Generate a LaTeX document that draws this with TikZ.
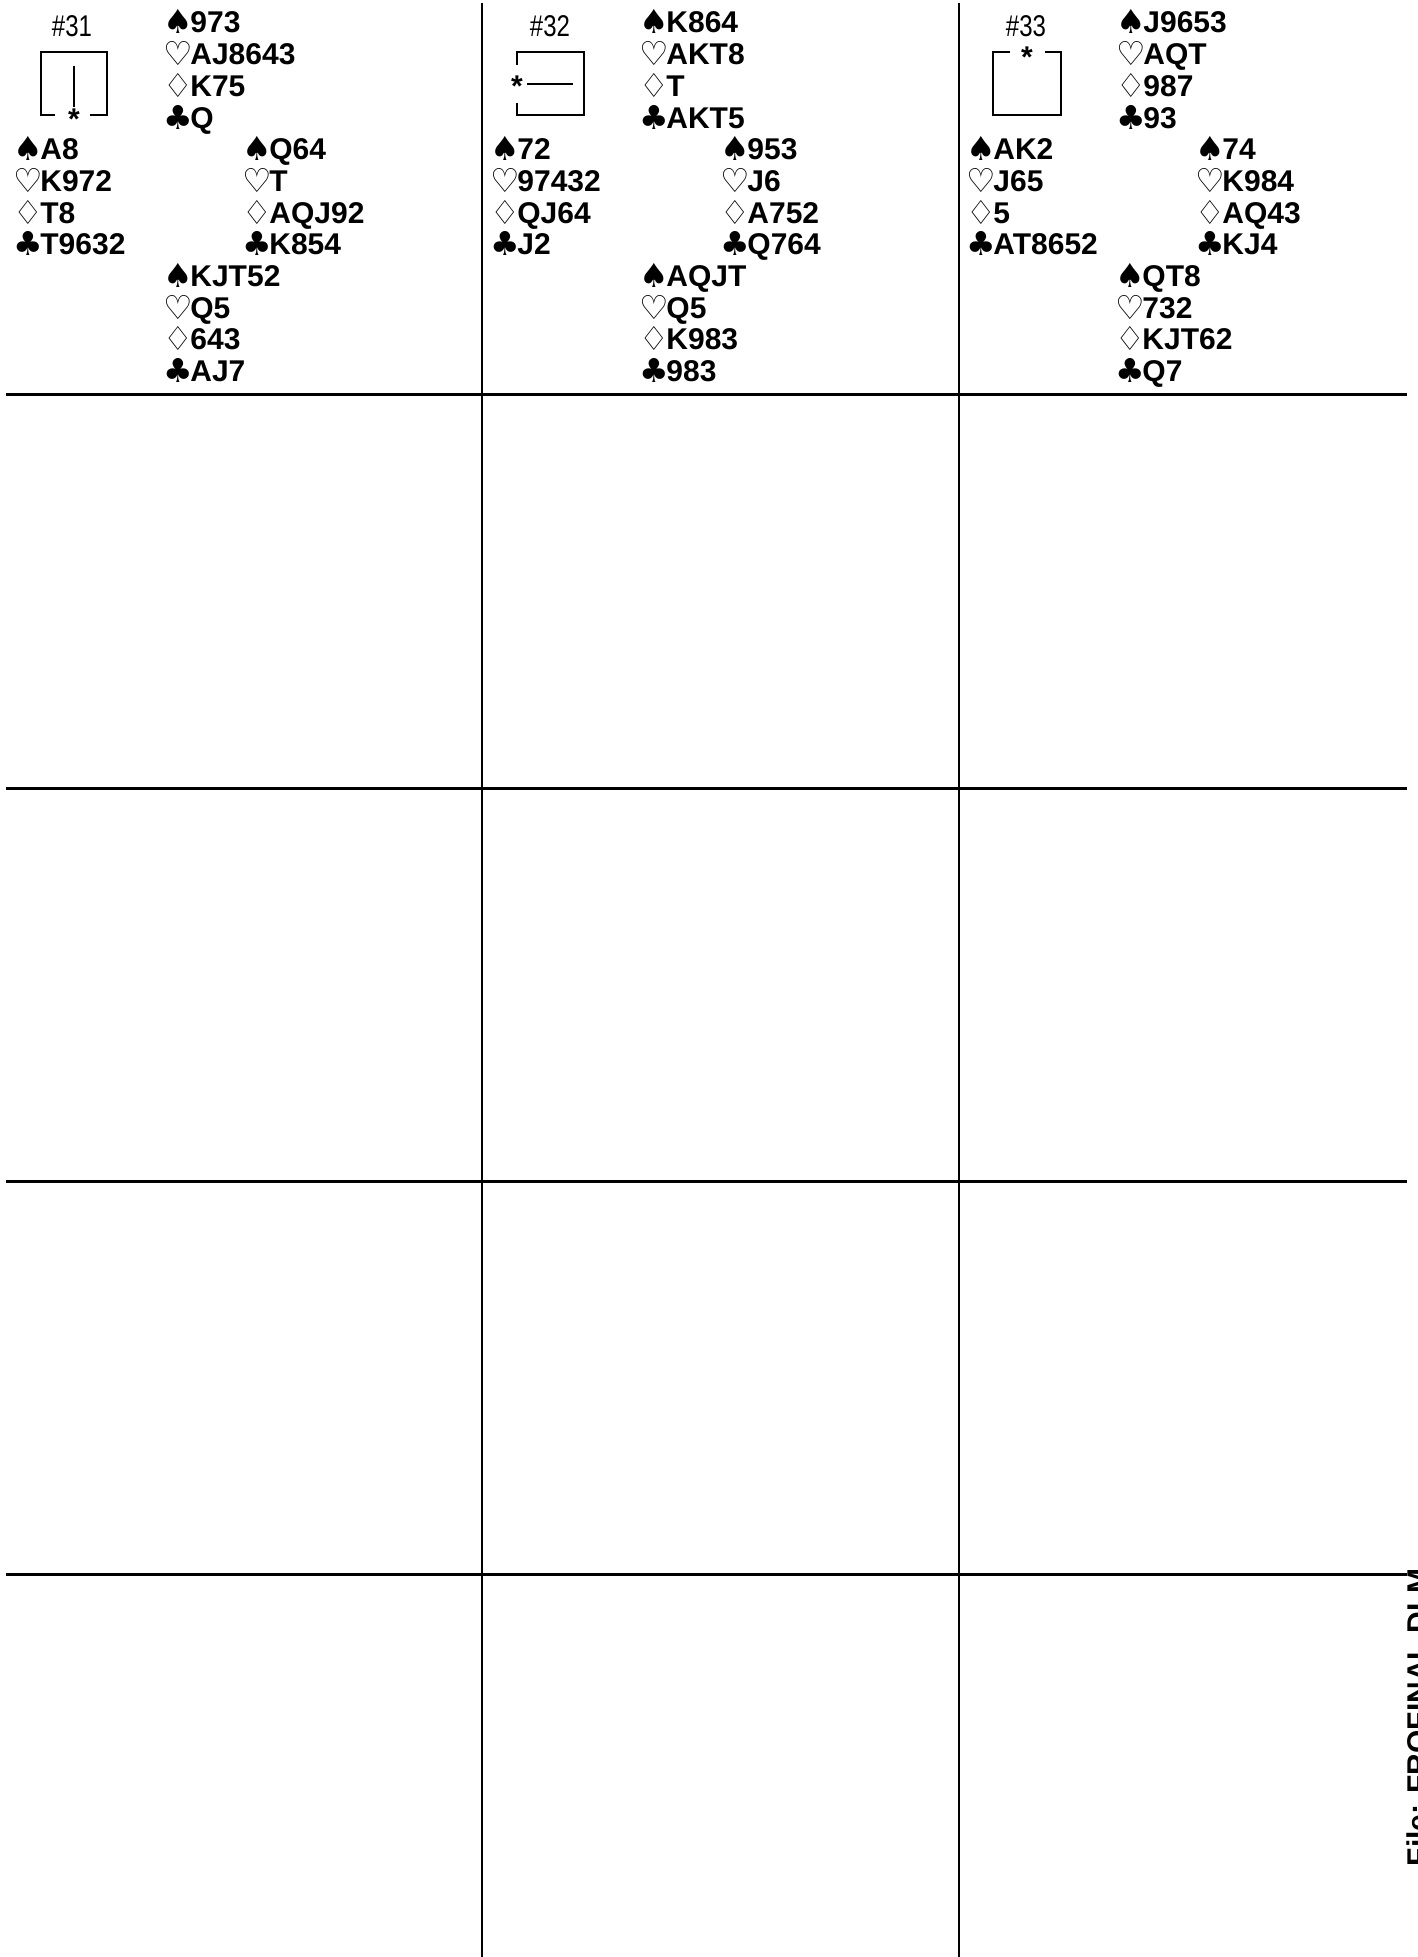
\documentclass[tikz,border=0pt]{standalone}
\usepackage{fontspec}
\setmainfont{Liberation Sans}
\newfontfamily\suitfamily{DejaVu Sans}
\newcommand\cardfnt{\fontsize{15pt}{18pt}\selectfont\bfseries}
\newcommand\suitfnt{\suitfamily\fontsize{16.5pt}{18pt}\selectfont}
\newcommand\numfnt{\fontsize{15pt}{18pt}\selectfont}
% #1 prefix, #2 card x, #3 first row, #4-#7 holdings S H D C
\newcommand\handat[7]{%
  \node[suit]  (#1sS) at ({#2-27},{34+31.7*(#3)}) {♠};
  \node[cards] (#1S)  at (#2,{33+31.7*(#3)}) {#4};
  \node[suit]  (#1sH) at ({#2-27},{34+31.7*(#3+1)}) {♡};
  \node[cards] (#1H)  at (#2,{33+31.7*(#3+1)}) {#5};
  \node[suit]  (#1sD) at ({#2-27},{34+31.7*(#3+2)}) {♢};
  \node[cards] (#1D)  at (#2,{33+31.7*(#3+2)}) {#6};
  \node[suit]  (#1sC) at ({#2-27},{34+31.7*(#3+3)}) {♣};
  \node[cards] (#1C)  at (#2,{33+31.7*(#3+3)}) {#7};
}
\begin{document}
\begin{tikzpicture}[x=0.5pt,y=-0.5pt,
  suit/.style={font=\suitfnt, inner sep=0pt, anchor=base west},
  cards/.style={font=\cardfnt, inner sep=0pt, anchor=base west},
  boardno/.style={font=\numfnt, inner sep=0pt, anchor=base},
  gridline/.style={line width=1.5pt},
  vline/.style={line width=1pt},
  boxline/.style={line width=0.6pt},
  star/.style={font=\cardfnt, inner sep=0pt}]
\fill[white] (0,0) rectangle (1417,1957);
\useasboundingbox (0,0) rectangle (1417,1957);

% grid
\draw[vline] (482,3) -- (482,1957);
\draw[vline] (958.5,3) -- (958.5,1957);
\foreach \yy in {395,788,1181,1574} \draw[gridline] (6,\yy) -- (1407,\yy);

% ---------- Board 31 ----------
\node[boardno] (b31) at (72,37) {\scalebox{0.8}[1]{\#31}};
\draw[boxline] (55,115) -- (41,115) -- (41,52) -- (107,52) -- (107,115) -- (90,115);
\node[star] (st31) at (74,119) {*};
\draw[boxline] (74,66) -- (74,107);
\handat{n31}{190}{0}{973}{AJ8643}{K75}{Q}
\handat{w31}{40}{4}{A8}{K972}{T8}{T9632}
\handat{e31}{269}{4}{Q64}{T}{AQJ92}{K854}
\handat{s31}{190}{8}{KJT52}{Q5}{643}{AJ7}

% ---------- Board 32 ----------
\node[boardno] (b32) at (550,37) {\scalebox{0.8}[1]{\#32}};
\draw[boxline] (517,65) -- (517,52) -- (584,52) -- (584,115) -- (517,115) -- (517,103);
\node[star] (st32) at (517,86) {*};
\draw[boxline] (527,84) -- (573,84);
\begin{scope}[shift={(476,0)}]
\handat{n32}{190}{0}{K864}{AKT8}{T}{AKT5}
\handat{w32}{41}{4}{72}{97432}{QJ64}{J2}
\handat{e32}{271}{4}{953}{J6}{A752}{Q764}
\handat{s32}{190}{8}{AQJT}{Q5}{K983}{983}
\end{scope}

% ---------- Board 33 ----------
\node[boardno] (b33) at (1026,37) {\scalebox{0.8}[1]{\#33}};
\draw[boxline] (1010,52) -- (993,52) -- (993,115) -- (1061,115) -- (1061,52) -- (1045,52);
\node[star] (st33) at (1027,57) {*};
\begin{scope}[shift={(952,0)}]
\handat{n33}{191}{0}{J9653}{AQT}{987}{93}
\handat{w33}{41}{4}{AK2}{J65}{5}{AT8652}
\handat{e33}{270}{4}{74}{K984}{AQ43}{KJ4}
\handat{s33}{190}{8}{QT8}{732}{KJT62}{Q7}
\end{scope}

% footer, cut off at the page edge
\begin{scope}
\clip (0,0) rectangle (1417,1957);
\node[cards, rotate=90, anchor=base east] (footer) at (1428,1568) {File: FROFINAL.DLM};
\end{scope}
\end{tikzpicture}
\end{document}
